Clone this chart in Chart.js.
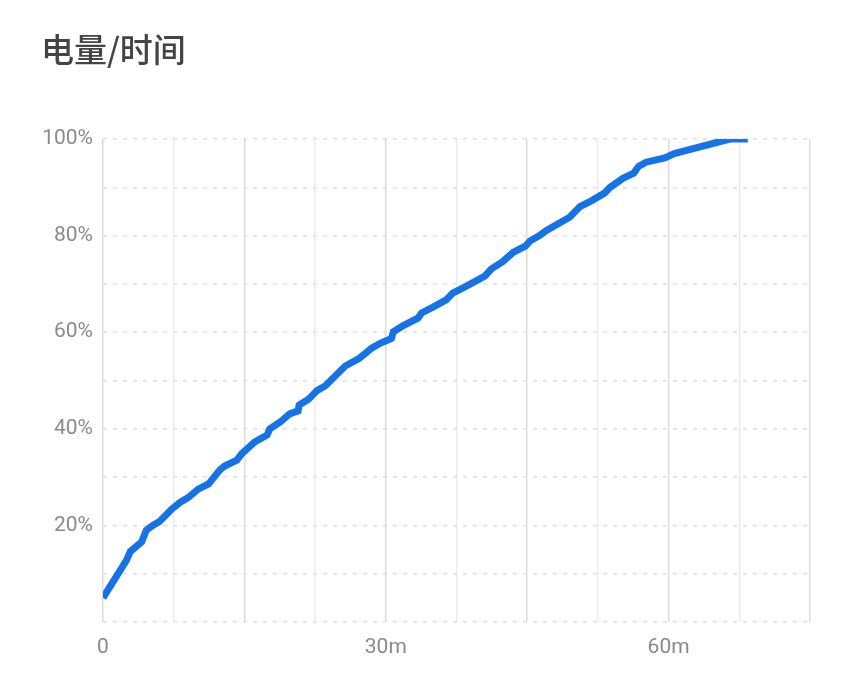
<!DOCTYPE html>
<html>
<head>
<meta charset="utf-8">
<script src="https://cdn.jsdelivr.net/npm/chart.js@4"></script>
<style>
  html, body { margin: 0; padding: 0; background: #fff; }
  #wrap { position: relative; width: 865px; height: 677px; }
  #title {
    position: absolute; left: 41px; top: 24px;
    font-family: "Noto Sans CJK SC", "Noto Sans", sans-serif;
    font-size: 33px; font-weight: 500; color: #444;
  }
</style>
</head>
<body>
<div id="wrap">
  <div id="title">电量/时间</div>
  <canvas id="batteryChart" width="865" height="677"></canvas>
</div>
<script>
// minutes since start
const minutes = [0, 2.5, 2.9, 4.1, 4.6, 5.2, 6.0, 7.3, 8.2, 9.0, 10.1, 11.2, 12.4, 12.9, 14.2, 14.7,
  16.1, 17.4, 17.7, 18.8, 19.8, 20.7, 20.8, 21.8, 22.7, 23.6, 24.4, 25.7, 27.2, 28.5, 29.4,
  30.6, 30.8, 31.8, 33.4, 33.8, 35.0, 36.4, 37.1, 38.2, 40.5, 41.2, 42.4, 43.5, 44.8, 45.3,
  46.3, 47.0, 49.5, 50.6, 51.8, 53.2, 53.8, 55.2, 56.3, 56.8, 57.6, 59.6, 60.6, 66.5, 68.4];
// battery level, percent
const level = [5.0, 12.8, 14.6, 16.6, 19.0, 19.9, 20.8, 23.4, 24.8, 25.7, 27.5, 28.6, 31.5, 32.3, 33.5, 34.8,
  37.3, 38.7, 40.0, 41.4, 43.1, 43.7, 44.9, 46.1, 47.9, 48.9, 50.5, 53.0, 54.6, 56.7, 57.7,
  58.7, 60.1, 61.3, 62.9, 64.0, 65.2, 66.7, 68.1, 69.2, 71.6, 73.1, 74.6, 76.5, 77.8, 78.9,
  80.0, 81.0, 83.8, 86.0, 87.2, 88.8, 90.0, 91.9, 92.9, 94.3, 95.2, 96.1, 97.0, 100, 100];
const xTickLabels = { 0: "0", 30: "30m", 60: "60m" };
const yTickLabels = { 20: "20%", 40: "40%", 60: "60%", 80: "80%", 100: "100%" };

const points = minutes.map((m, i) => ({ x: m, y: level[i] }));

new Chart(document.getElementById("batteryChart"), {
  type: "line",
  data: {
    datasets: [{
      data: points,
      borderColor: "#1573e6",
      borderWidth: 7,
      pointRadius: 0,
      tension: 0,
      fill: false
    }]
  },
  options: {
    responsive: false,
    animation: false,
    layout: { padding: { top: 139, left: 0, right: 55, bottom: 0 } },
    plugins: { legend: { display: false }, tooltip: { enabled: false } },
    scales: {
      x: {
        type: "linear",
        min: 0, max: 75,
        afterFit: s => { s.height = 55; },
        ticks: {
          stepSize: 7.5,
          autoSkip: false,
          maxRotation: 0,
          padding: 13,
          color: "#8a8a8a",
          font: { family: "Roboto", size: 21 },
          callback: v => xTickLabels[v] || ""
        },
        grid: {
          drawTicks: false,
          color: ctx => (ctx.tick && ctx.tick.value % 15 === 0) ? "#dcdcdc" : "#ececec",
          lineWidth: 1.5
        },
        border: { display: false }
      },
      y: {
        min: 0, max: 100,
        afterFit: s => { s.width = 103; },
        ticks: {
          stepSize: 10,
          padding: 10,
          color: "#8a8a8a",
          font: { family: "Roboto", size: 21 },
          callback: v => yTickLabels[v] || ""
        },
        grid: { drawTicks: false, color: "#e0e0e0", lineWidth: 1.5 },
        border: { display: false, dash: [4, 6] }
      }
    }
  }
});
</script>
</body>
</html>
